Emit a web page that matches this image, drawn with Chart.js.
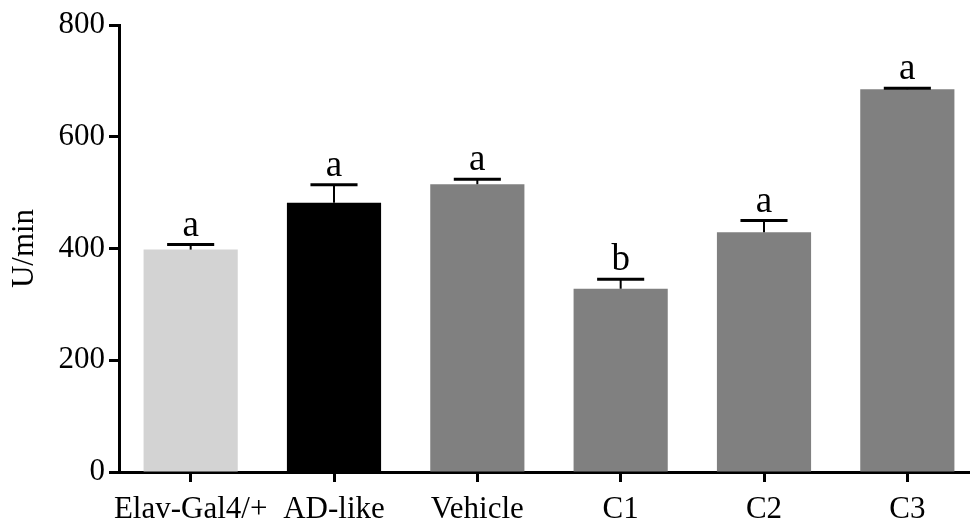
<!DOCTYPE html>
<html>
<head>
<meta charset="utf-8">
<script src="https://cdn.jsdelivr.net/npm/chart.js@4/dist/chart.umd.min.js"></script>
<style>
html,body{margin:0;padding:0;overflow:hidden;background:#fff;}
#wrap{position:relative;width:980px;height:519px;}
</style>
</head>
<body>
<div id="wrap"><canvas id="c"></canvas></div>
<script>
const categories = ['Elav-Gal4/+', 'AD-like', 'Vehicle', 'C1', 'C2', 'C3'];
const means = [398, 482, 515, 328, 429, 685];
const errors = [9, 32, 9, 17, 21, 2];
const letters = ['a', 'a', 'a', 'b', 'a', 'a'];
const barColors = ['#d3d3d3', '#000000', '#808080', '#808080', '#808080', '#808080'];
const yTicks = [0, 200, 400, 600, 800];

const FONT = "'Liberation Serif', 'Times New Roman', serif";

const errorPlugin = {
  id: 'errorBars',
  afterDatasetsDraw(chart) {
    const ctx = chart.ctx;
    const meta = chart.getDatasetMeta(0);
    const y = chart.scales.y;
    ctx.save();
    meta.data.forEach((bar, i) => {
      const x = bar.x;
      const top = y.getPixelForValue(means[i] + errors[i]);
      const base = y.getPixelForValue(means[i]);
      const half = bar.width / 4;
      ctx.strokeStyle = '#000';
      ctx.lineWidth = 2;
      ctx.beginPath();
      ctx.moveTo(x, base);
      ctx.lineTo(x, top);
      ctx.stroke();
      ctx.lineWidth = 3;
      ctx.beginPath();
      ctx.moveTo(x - half, top);
      ctx.lineTo(x + half, top);
      ctx.stroke();
      ctx.fillStyle = '#000';
      ctx.font = '37px ' + FONT;
      ctx.textAlign = 'center';
      ctx.textBaseline = 'alphabetic';
      ctx.fillText(letters[i], x, top - 9);
    });
    ctx.restore();
  }
};

new Chart(document.getElementById('c'), {
  type: 'bar',
  data: {
    labels: categories,
    datasets: [{
      data: means,
      backgroundColor: barColors,
      borderWidth: 0,
      barPercentage: 0.657,
      categoryPercentage: 1.0
    }]
  },
  options: {
    responsive: true,
    maintainAspectRatio: false,
    animation: false,
    devicePixelRatio: 1,
    layout: { padding: { top: 25, right: 1, left: 0, bottom: 0 } },
    plugins: { legend: { display: false }, tooltip: { enabled: false } },
    scales: {
      x: {
        type: 'category',
        offset: true,
        afterFit(scale) { scale.height = 47; },
        grid: { display: true, drawOnChartArea: false, drawTicks: true, tickLength: 10, tickWidth: 3, tickColor: '#000', offset: false },
        border: { display: true, color: '#000', width: 3 },
        ticks: { color: '#000', font: { family: FONT, size: 31 }, padding: 9, maxRotation: 0, autoSkip: false }
      },
      y: {
        min: 0,
        max: 800,
        afterFit(scale) { scale.width = 119; },
        afterBuildTicks(scale) { scale.ticks = yTicks.map(v => ({ value: v })); },
        grid: { display: true, drawOnChartArea: false, drawTicks: true, tickLength: 10, tickWidth: 3, tickColor: '#000' },
        border: { display: true, color: '#000', width: 3 },
        ticks: { color: '#000', font: { family: FONT, size: 31 }, padding: 4 },
        title: { display: true, text: 'U/min', color: '#000', font: { family: FONT, size: 31 }, padding: { top: 6, bottom: 0 } }
      }
    }
  },
  plugins: [errorPlugin]
});
</script>
</body>
</html>
